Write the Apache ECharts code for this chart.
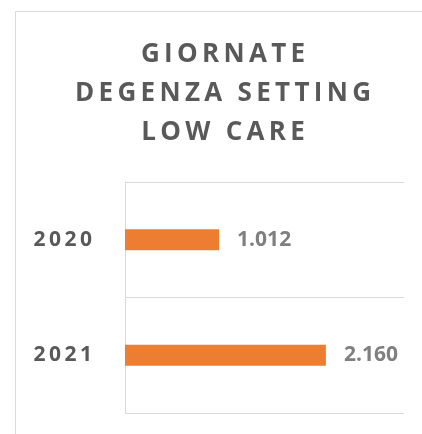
<!DOCTYPE html>
<html>
<head>
<meta charset="utf-8">
<script src="https://cdn.jsdelivr.net/npm/echarts@6/dist/echarts.min.js"></script>
<style>
  html, body { margin: 0; padding: 0; background: #fff; }
  #chart { width: 422px; height: 434px; }
</style>
</head>
<body>
<div id="chart"></div>
<script>
const titleLines = ['GIORNATE', 'DEGENZA SETTING', 'LOW CARE']
const years = ['2020', '2021']
const days = [1012, 2160]

// spread letters out a bit, like the original chart's spaced caps
const spaced = (s) => s.split('').join('\u2009')

const chart = echarts.init(document.getElementById('chart'))

const option = {
  animation: false,
  graphic: [
    {
      type: 'rect',
      shape: { x: 15.5, y: 11.5, width: 430, height: 440 },
      style: { fill: 'none', stroke: '#d9d9d9', lineWidth: 1 },
      silent: true
    },
    {
      type: 'text',
      x: 223,
      y: 35,
      style: {
        text: titleLines.map(spaced).join('\n'),
        font: 'bold 26px "Open Sans"',
        fill: '#595959',
        align: 'center',
        verticalAlign: 'top',
        lineHeight: 39
      }
    }
  ],
  grid: { left: 125, right: 18, top: 182, bottom: 21 },
  xAxis: {
    type: 'value',
    min: 0,
    max: 3000,
    axisLabel: { show: false },
    axisLine: { show: false },
    axisTick: { show: false },
    splitLine: { show: false }
  },
  yAxis: {
    type: 'category',
    inverse: true,
    data: years,
    axisLine: { show: true, lineStyle: { color: '#d9d9d9', width: 1 } },
    axisTick: { show: false },
    splitLine: { show: true, lineStyle: { color: '#d9d9d9', width: 1 } },
    axisLabel: {
      margin: 33,
      color: '#595959',
      fontFamily: 'Open Sans',
      fontWeight: 'bold',
      fontSize: 21,
      formatter: (v) => spaced(v)
    }
  },
  series: [{
    type: 'bar',
    data: days,
    barWidth: 21,
    itemStyle: { color: '#ed7d31' },
    label: {
      show: true,
      position: 'right',
      distance: 18,
      color: '#7f7f7f',
      fontFamily: 'Open Sans',
      fontWeight: 'bold',
      fontSize: 21,
      formatter: (p) => p.value.toString().replace(/\B(?=(\d{3})+(?!\d))/g, '.')
    }
  }]
}

chart.setOption(option)
</script>
</body>
</html>
